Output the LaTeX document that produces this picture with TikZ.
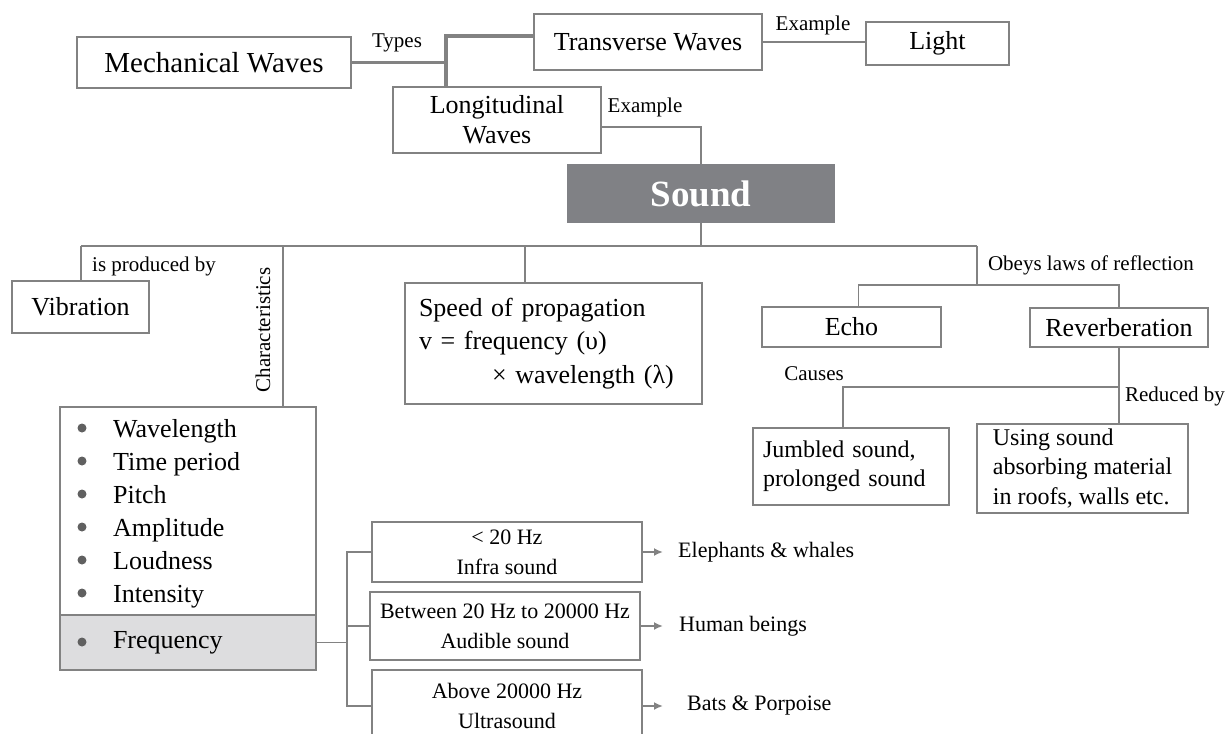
\documentclass[tikz,border=0pt]{standalone}
\usepackage{fontspec}
\setmainfont{Liberation Serif}
\usepackage{tikz}
\usetikzlibrary{arrows.meta}

\definecolor{lgray}{HTML}{828282}
\definecolor{sgray}{HTML}{808185}
\definecolor{fgray}{HTML}{DDDDDF}
\definecolor{dgray}{HTML}{606060}

\newcommand{\boxfont}{\fontsize{26}{30}\selectfont}
\newcommand{\mwfont}{\fontsize{29}{32}\selectfont}
\newcommand{\sndfont}{\fontsize{37}{40}\selectfont\bfseries}
\newcommand{\spdfont}{\fontsize{26}{33.5}\selectfont}
\newcommand{\notefont}{\fontsize{24}{29.5}\selectfont}
\newcommand{\hzfont}{\fontsize{22}{30}\selectfont}
\newcommand{\lblfont}{\fontsize{21}{24}\selectfont}

\begin{document}
\begin{tikzpicture}[x=1pt, y=1pt, >={Latex[length=9pt,width=8pt]},
  box/.style={draw=lgray, line width=1.8pt, inner sep=0pt, font=\boxfont},
  lbl/.style={inner sep=0pt, font=\lblfont},
  conn/.style={lgray, line width=1.8pt},
  thk/.style={lgray, line width=3.5pt}]
  \useasboundingbox (0,0) rectangle (1227,-734);
  \clip (0,0) rectangle (1227,-734);

  % wave types
  \node[box, font=\mwfont, line width=2.4pt, minimum width=274pt, minimum height=51pt] (mw) at (214,-62.5) {Mechanical Waves};
  \node[box, minimum width=228pt, minimum height=56pt] (tw) at (648,-42) {Transverse Waves};
  \node[box, minimum width=143pt, minimum height=43pt] (lt) at (937.5,-43.5) {Light};
  \node[box, align=center, minimum width=208pt, minimum height=66pt] (lw) at (497,-120) {Longitudinal\\Waves};
  \node[fill=sgray, text=white, font=\sndfont, inner sep=0pt, minimum width=268pt, minimum height=59pt] (snd) at (701,-193.5) {Sound};

  % branches of sound
  \node[box, minimum width=137pt, minimum height=52pt] (vib) at (80.5,-307) {Vibration};
  \node[box, font=\spdfont, align=left, text width=269pt, inner xsep=14pt, minimum height=121pt] (spd) at (553.5,-343.5) {Speed of propagation\\v = frequency (υ)\\\hspace*{73pt}× wavelength (λ)};
  \node[box, minimum width=179pt, minimum height=40pt] (echo) at (851.5,-327) {Echo};
  \node[box, minimum width=178pt, minimum height=39pt] (rev) at (1119,-327.5) {Reverberation};
  \node[box, font=\notefont, align=left, text width=176pt, inner xsep=10pt, minimum height=77pt] (jum) at (851,-466.5) {Jumbled sound,\\prolonged sound};
  \node[box, font=\notefont, align=left, minimum width=211pt, minimum height=89pt] (use) at (1082.5,-468.5) {Using sound\\absorbing material\\in roofs, walls etc.};

  % characteristics
  \node[box, minimum width=256pt, minimum height=208pt] (chr) at (188,-511) {};
  \node[box, fill=fgray, align=left, text width=150pt, inner xsep=53pt, minimum height=55pt] (frq) at (188,-642.5) {Frequency};
  \foreach \t [count=\i] in {Wavelength, Time period, Pitch, Amplitude, Loudness, Intensity} {
    \fill[dgray] (82,{-428-33*(\i-1)}) circle (4.5);
    \node[inner sep=0pt, font=\boxfont, anchor=base west] (it\i) at (113,{-437-33*(\i-1)}) {\t};
  }
  \fill[dgray] (82,-642) circle (4.5);

  % frequency ranges
  \node[box, font=\hzfont, align=center, minimum width=270pt, minimum height=60pt] (inf) at (507,-552) {< 20 Hz\\Infra sound};
  \node[box, font=\hzfont, align=center, minimum width=270pt, minimum height=68pt] (aud) at (505,-626) {Between 20 Hz to 20000 Hz\\Audible sound};
  \node[box, font=\hzfont, align=center, minimum width=270pt, minimum height=72pt] (ult) at (507,-706) {Above 20000 Hz\\Ultrasound};
  \node[inner sep=0pt, font=\hzfont, anchor=west] (ele) at (678,-552) {Elephants \& whales};
  \node[inner sep=0pt, font=\hzfont, anchor=west] (hum) at (679,-626) {Human beings};
  \node[inner sep=0pt, font=\hzfont, anchor=west] (bat) at (687,-706) {Bats \& Porpoise};

  % link labels
  \node[lbl] (types) at (397,-43) {Types};
  \node[lbl] (ex1) at (813,-25) {Example};
  \node[lbl] (ex2) at (645,-107) {Example};
  \node[lbl] (prod) at (154,-266) {is produced by};
  \node[lbl, rotate=90] (chars) at (263,-330) {Characteristics};
  \node[lbl] (obeys) at (1091,-265) {Obeys laws of reflection};
  \node[lbl] (causes) at (814,-374) {Causes};
  \node[lbl] (redby) at (1175,-396) {Reduced by};

  % junctions
  \coordinate (jt) at (446,-36);
  \coordinate (busl) at (81,-246);
  \coordinate (busr) at (977,-246);
  \coordinate (bchr) at (283,-246);
  \coordinate (bspd) at (525,-246);
  \coordinate (ber) at (977,-285);
  \coordinate (rj) at (1119,-387);
  \coordinate (fb) at (347,-642.5);

  \draw[thk] (mw.east) -- (mw.east -| jt);
  \draw[thk] (lw.north -| jt) -- (jt) -- (jt -| tw.west);
  \draw[conn] (tw.east) -- (tw.east -| lt.west);
  \draw[conn] ([yshift=-7pt]lw.east) -| (snd.north);

  \draw[conn] (busl) -- (busr);
  \draw[conn] (snd.south) -- (snd.south |- busl);
  \draw[conn] (busl) -- (vib.north -| busl);
  \draw[conn] (bchr) -- (chr.north -| bchr);
  \draw[conn] (bspd) -- (spd.north -| bspd);
  \draw[conn] (busr) -- (ber);
  \draw[conn] ([xshift=7pt]echo.north) |- (ber) -| (rev.north);
  \draw[conn] (rev.south) -- (rev.south |- use.north);
  \draw[conn] (rj) -| ([xshift=-8pt]jum.north);

  \draw[conn] (frq.east) -- (fb);
  \draw[conn] (inf.west) -| (fb) |- (ult.west);
  \draw[conn] (aud.west) -- (aud.west -| fb);
  \draw[conn, ->] (inf.east) -- ([xshift=-15pt]ele.west);
  \draw[conn, ->] (aud.east) -- ([xshift=-16pt]hum.west);
  \draw[conn, ->] (ult.east) -- ([xshift=-24pt]bat.west);
\end{tikzpicture}
\end{document}
